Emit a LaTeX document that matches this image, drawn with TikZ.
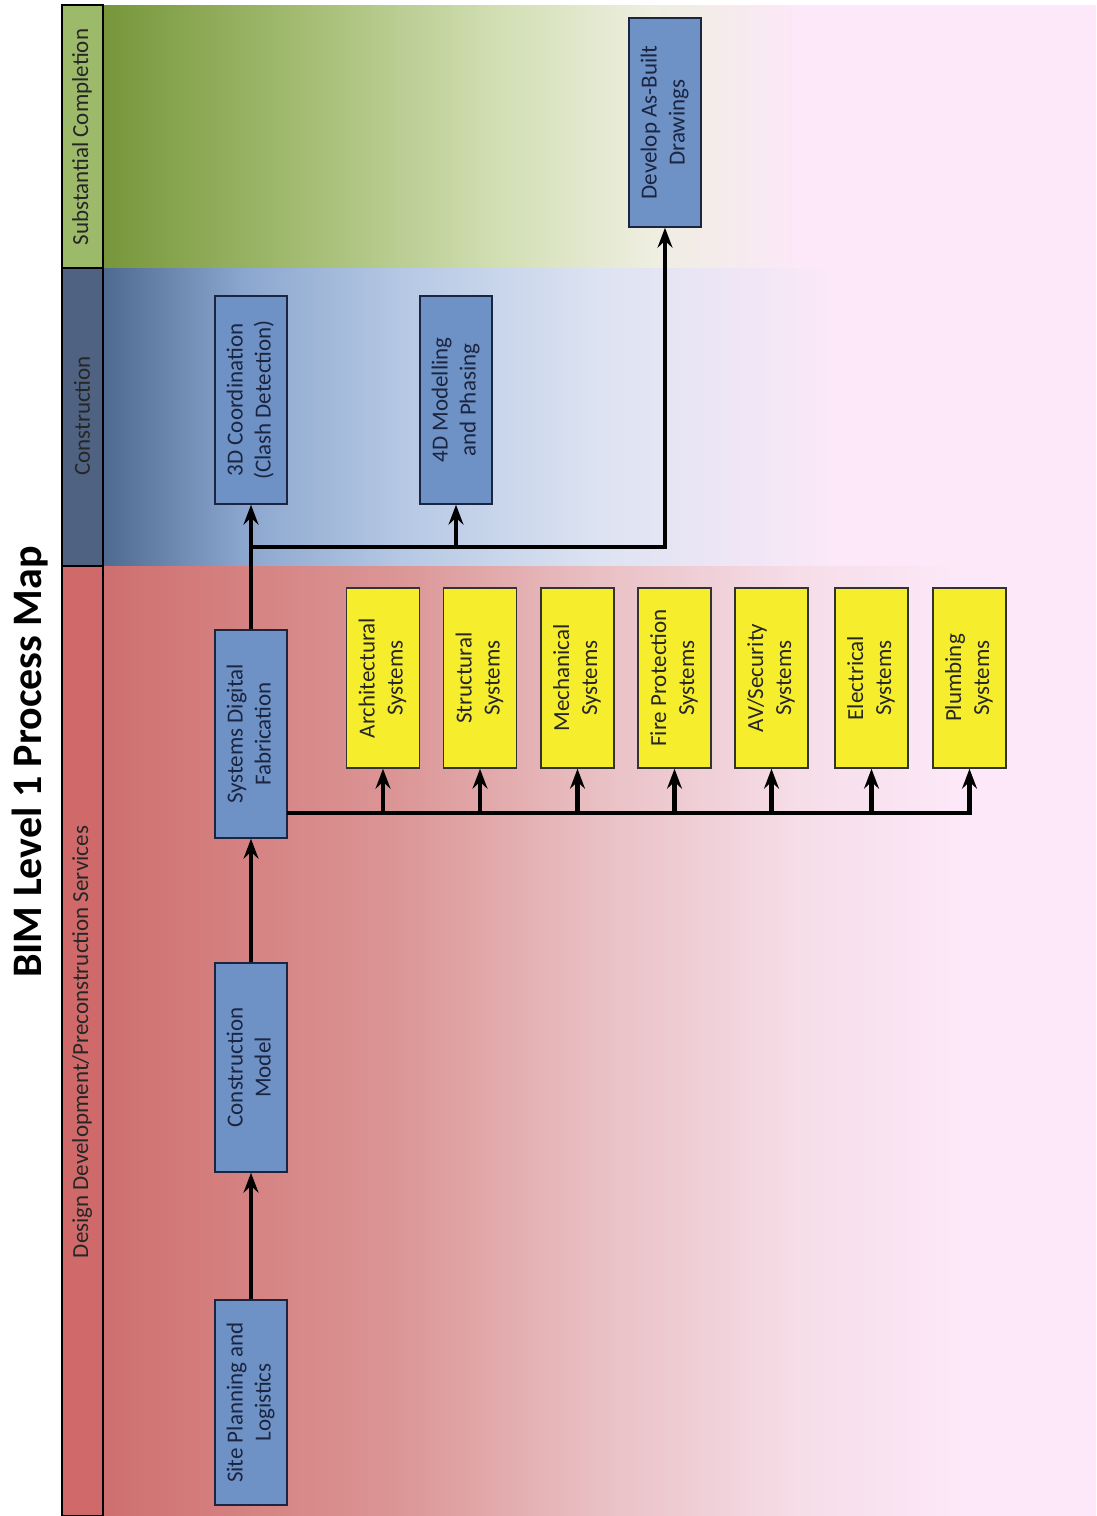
\documentclass[tikz,border=0pt]{standalone}
\usepackage{fontspec}
\setmainfont{Carlito}
\usepackage{graphicx}
\usetikzlibrary{arrows.meta}
\definecolor{pk}{HTML}{FCE8F8}
\definecolor{g0}{HTML}{77963A}
\definecolor{g1}{HTML}{A3BC72}
\definecolor{g2}{HTML}{D2DFB4}
\definecolor{g3}{HTML}{EEEEE0}
\definecolor{b0}{HTML}{4F6A90}
\definecolor{b1}{HTML}{8BA6CE}
\definecolor{b2}{HTML}{B5C8E4}
\definecolor{b3}{HTML}{DDE3F2}
\definecolor{r0}{HTML}{CF6F6F}
\definecolor{r1}{HTML}{DC9696}
\definecolor{r2}{HTML}{E9C0C4}
\definecolor{r3}{HTML}{F6DDE8}
\definecolor{hgreen}{HTML}{9DBA6B}
\definecolor{hblue}{HTML}{4F6282}
\definecolor{hred}{HTML}{D06A6A}
\definecolor{bluebox}{HTML}{6E91C6}
\definecolor{yellowbox}{HTML}{F6EE2C}
\definecolor{navy}{HTML}{1B2540}
\pgfdeclarehorizontalshading{greenlane}{100bp}{color(0bp)=(g0); color(25bp)=(g0); color(35bp)=(g1); color(45bp)=(g2); color(52.5bp)=(g3); color(60bp)=(pk); color(100bp)=(pk)}
\pgfdeclarehorizontalshading{bluelane}{100bp}{color(0bp)=(b0); color(25bp)=(b0); color(32bp)=(b1); color(40bp)=(b2); color(50bp)=(b3); color(62bp)=(pk); color(100bp)=(pk)}
\pgfdeclarehorizontalshading{redlane}{100bp}{color(0bp)=(r0); color(25bp)=(r0); color(40bp)=(r1); color(50bp)=(r2); color(60bp)=(r3); color(68bp)=(pk); color(100bp)=(pk)}
\newcommand{\rtext}[1]{\rotatebox{90}{\begin{tabular}{@{}c@{}}#1\end{tabular}}}
\tikzset{
  hdr/.style={draw=black, line width=1.5pt},
  bluenode/.style={draw=navy, line width=1.5pt, fill=bluebox, minimum width=72pt, minimum height=208pt, inner sep=0pt, text=navy, font=\fontsize{23}{28}\selectfont},
  yellownode/.style={draw=black!80, line width=1.5pt, fill=yellowbox, minimum width=73pt, minimum height=180pt, inner sep=0pt, text=black!85, font=\fontsize{23}{28}\selectfont},
  hlabel/.style={rotate=90, text=black!85, font=\fontsize{23}{26}\selectfont},
  conn/.style={line width=4.5pt, -{Stealth[length=20pt,width=15pt,inset=7pt]}},
  plainconn/.style={line width=4.5pt}
}
\begin{document}
\begin{tikzpicture}[x=1pt,y=-1pt]
\useasboundingbox (0,0) rectangle (1096,1516);
\fill[white] (0,0) rectangle (1096,1516);
% lanes
\shade[shading=greenlane] (103,5) rectangle (1096,268);
\shade[shading=bluelane] (103,268) rectangle (1096,566);
\shade[shading=redlane] (103,566) rectangle (1096,1516);
% header column
\draw[hdr, fill=hgreen] (62,5) rectangle (103,268);
\draw[hdr, fill=hblue] (62,268) rectangle (103,566);
\draw[hdr, fill=hred] (62,566) rectangle (103,1516);
\node[hlabel] (hsc) at (82,137) {Substantial Completion};
\node[hlabel] (hc) at (82,416) {Construction};
\node[hlabel] (hdd) at (82,1042) {Design Development/Preconstruction Services};
% title
\node[rotate=90, font=\bfseries\fontsize{42}{48}\selectfont] (title) at (30,762) {BIM Level 1 Process Map};
% blue nodes
\node[bluenode, minimum height=205pt] (site) at (251,1402.5) {\rtext{Site Planning and\\Logistics}};
\node[bluenode, minimum height=209pt] (cm) at (251,1067.5) {\rtext{Construction\\Model}};
\node[bluenode] (sdf) at (251,734) {\rtext{Systems Digital\\Fabrication}};
\node[bluenode] (c3d) at (251,400) {\rtext{3D Coordination\\(Clash Detection)}};
\node[bluenode] (c4d) at (456,400) {\rtext{4D Modelling\\and Phasing}};
\node[bluenode, minimum height=209pt] (asb) at (665,122.5) {\rtext{Develop As-Built\\Drawings}};
% yellow nodes
\node[yellownode] (arch) at (383,678) {\rtext{Architectural\\Systems}};
\node[yellownode] (struc) at (480,678) {\rtext{Structural\\Systems}};
\node[yellownode] (mech) at (577.5,678) {\rtext{Mechanical\\Systems}};
\node[yellownode] (fire) at (674.5,678) {\rtext{Fire Protection\\Systems}};
\node[yellownode] (av) at (771.5,678) {\rtext{AV/Security\\Systems}};
\node[yellownode] (elec) at (871.5,678) {\rtext{Electrical\\Systems}};
\node[yellownode] (plumb) at (969.5,678) {\rtext{Plumbing\\Systems}};
% connectors
\draw[conn] (site.north) -- (cm.south);
\draw[conn] (cm.north) -- (sdf.south);
\draw[conn] (sdf.north) -- (c3d.south);
\coordinate (j1) at (251,547);
\draw[conn] (j1) -| (asb.south);
\draw[conn] (j1 -| c4d.south) -- (c4d.south);
\coordinate (j2) at (287,813);
\draw[conn] (j2) -| (plumb.south);
\foreach \n in {arch,struc,mech,fire,av,elec}
  \draw[conn] (j2 -| \n.south) -- (\n.south);
\end{tikzpicture}
\end{document}
